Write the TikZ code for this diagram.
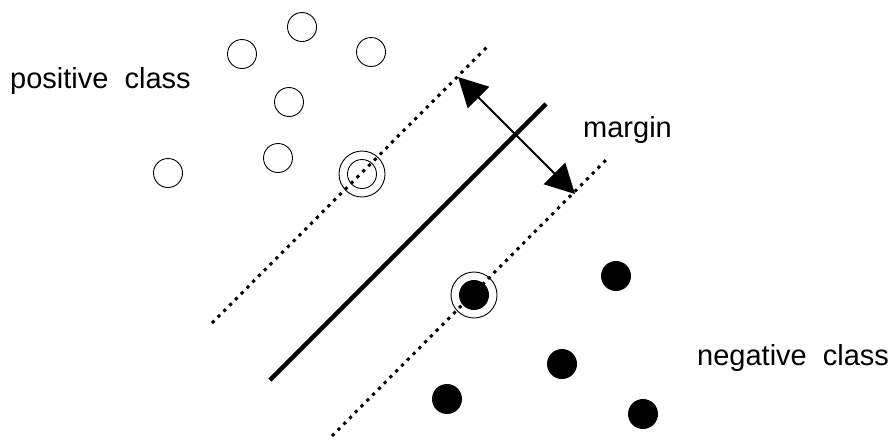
\documentclass[tikz,border=0pt]{standalone}
\usepackage{fontspec}
\setmainfont{Liberation Sans}
\usepackage{tikz}
\usetikzlibrary{arrows.meta, positioning}

\begin{document}
\begin{tikzpicture}[x=1pt, y=-1pt,
  posdot/.style={draw, circle, line width=0.9pt, minimum size=29pt, inner sep=0pt},
  negdot/.style={fill, circle, minimum size=30pt, inner sep=0pt},
  suppring/.style={draw, circle, line width=0.9pt, minimum size=46pt, inner sep=0pt},
  margline/.style={line width=3pt, dash pattern=on 3.2pt off 5pt},
  lbl/.style={font=\fontsize{29}{34}\selectfont, anchor=base west, inner sep=0pt}
]
  \useasboundingbox (0,0) rectangle (892,440);
  % positive class
  \node[posdot] (p1) at (302,27) {};
  \node[posdot] (p2) at (242,54) {};
  \node[posdot] (p3) at (371,52) {};
  \node[posdot] (p4) at (289,102) {};
  \node[posdot] (p5) at (278,158) {};
  \node[posdot] (p6) at (168,173) {};
  \node[posdot] (sp) at (362,174) {};
  \node[suppring] (spring) at (sp) {};
  % negative class
  \node[negdot] (n1) at (616,276) {};
  \node[negdot] (n2) at (562,364) {};
  \node[negdot] (n3) at (447,399) {};
  \node[negdot] (n4) at (643,414) {};
  \node[negdot] (sn) at (474,295) {};
  \node[suppring] (snring) at (sn) {};
  % separating line and margins
  \coordinate (hA) at (270,380);
  \coordinate (hB) at (546,104);
  \coordinate (uA) at (212,323);
  \coordinate (uB) at (489,45);
  \coordinate (lA) at (332,436);
  \coordinate (lB) at (609,157);
  \draw[line width=4.5pt] (hA) -- (hB);
  \draw[margline] (uA) -- (uB);
  \draw[margline] (lA) -- (lB);
  % margin arrow
  \coordinate (mU) at (458,77);
  \coordinate (mL) at (575,194);
  \draw[{Triangle[length=29pt, width=30pt]}-{Triangle[length=29pt, width=30pt]}, line width=2pt] (mU) -- (mL);
  % labels
  \node[lbl] (poslbl) at (10,88) {positive\ \ class};
  \node[lbl] (marglbl) at (583,137) {margin};
  \node[lbl] (neglbl) at (697,365) {negative\ \ class};
\end{tikzpicture}
\end{document}
